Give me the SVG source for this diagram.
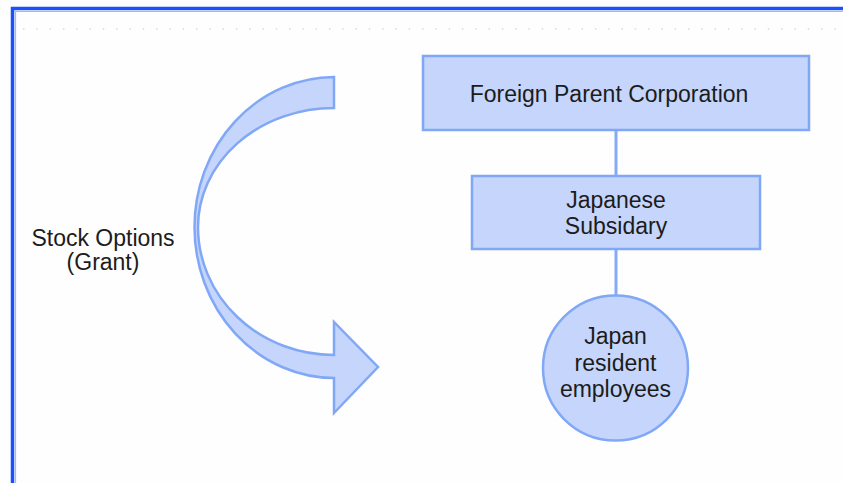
<svg xmlns="http://www.w3.org/2000/svg" width="843" height="483" viewBox="0 0 843 483">
<style>
.shape{fill:#C5D5FB;stroke:#80A8F6;stroke-width:2.5;stroke-linejoin:miter}
.conn{stroke:#86ABF6;stroke-width:3;fill:none}
.t{font-family:"Liberation Sans",Arial,sans-serif;font-size:23px;fill:#1c1c1c;text-anchor:middle}
</style>
<rect x="0" y="0" width="843" height="483" fill="#fefefe"/>
<path d="M12.5,483 V8.5 H843" fill="none" stroke="#1a50ff" stroke-width="3.5"/>
<path d="M15.5,483 V11.5 H843" fill="none" stroke="#9fb8ff" stroke-width="1.2"/>
<line x1="23" y1="29" x2="843" y2="29" stroke="#d4d9e8" stroke-width="1.5" stroke-dasharray="1.5 11.8"/>
<g id="connectors">
<line class="conn" x1="616" y1="130" x2="616" y2="176"/>
<line class="conn" x1="616" y1="249" x2="616" y2="295"/>
</g>
<g id="grant-arrow">
<path class="shape" d="M334,77 A140,150 0 0 0 194.5,227 A140,151 0 0 0 334,378 L334,413 L378,367 L334,322 L334,355 A136,128 0 0 1 198,227 A136,119 0 0 1 334,108 Z"/>
</g>
<g id="label-stock-options">
<text class="t" x="103" y="246">Stock Options</text>
<text class="t" x="103" y="270">(Grant)</text>
</g>
<g id="foreign-parent">
<rect class="shape" x="423" y="56" width="386" height="74"/>
<text class="t" x="609" y="102">Foreign Parent Corporation</text>
</g>
<g id="japanese-subsidiary">
<rect class="shape" x="472" y="176" width="288" height="73"/>
<text class="t" x="616" y="208">Japanese</text>
<text class="t" x="616" y="234">Subsidary</text>
</g>
<g id="employees">
<circle class="shape" cx="615.5" cy="368" r="72.5"/>
<text class="t" x="615.5" y="344">Japan</text>
<text class="t" x="615.5" y="371">resident</text>
<text class="t" x="615.5" y="397">employees</text>
</g>
</svg>
